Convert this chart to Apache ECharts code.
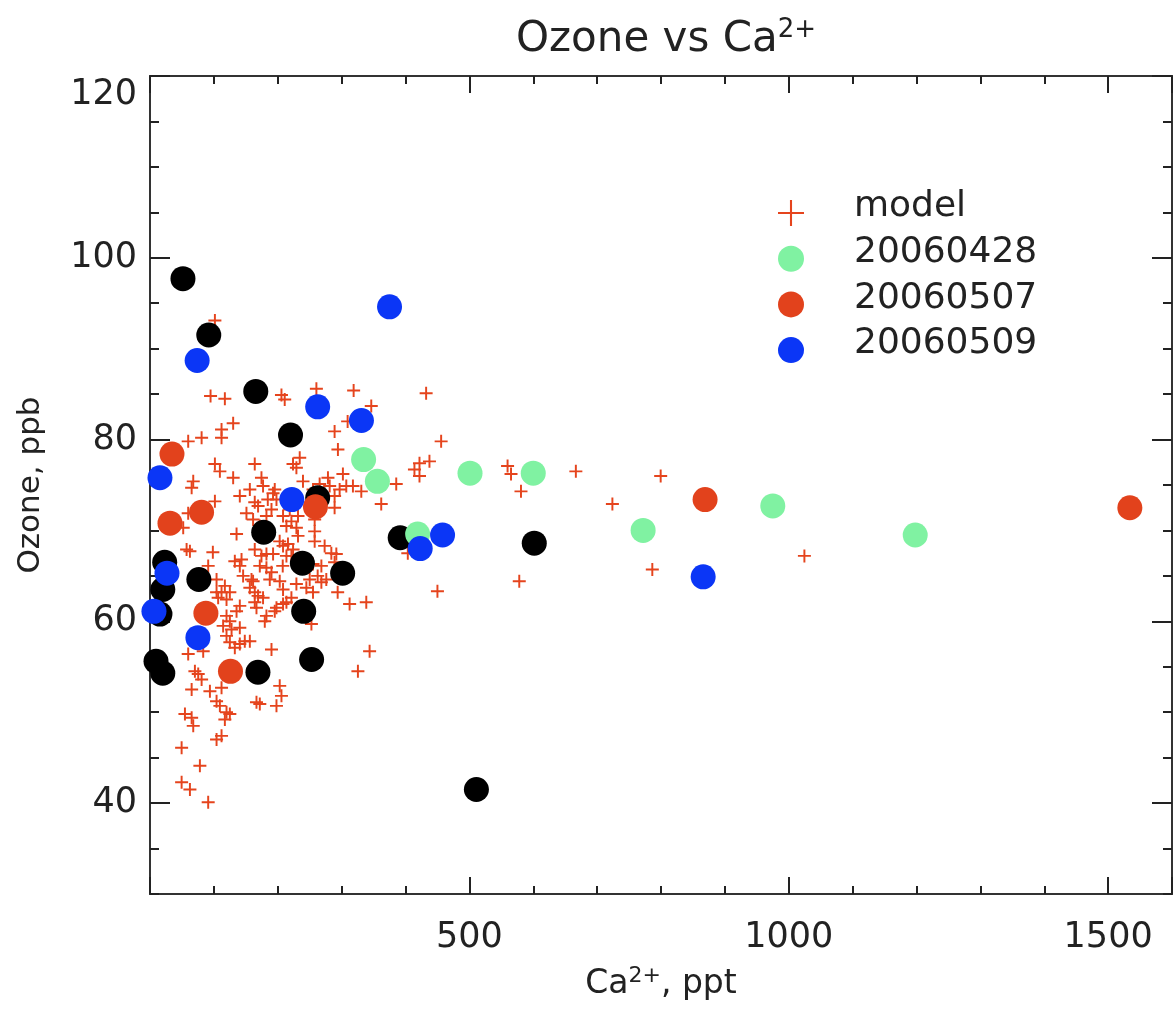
<!DOCTYPE html>
<html>
<head>
<meta charset="utf-8">
<script src="https://cdn.jsdelivr.net/npm/echarts@6/dist/echarts.min.js"></script>
<style>html,body{margin:0;padding:0;background:#fff;overflow:hidden}#chart{width:1175px;height:1009px}</style>
</head>
<body>
<div id="chart"></div>
<script>
// ---- data ----
const xLabelValues = [500, 1000, 1500];
const yLabelValues = [40, 60, 80, 100, 120];
const legendNames = ['model', '20060428', '20060507', '20060509'];

const modelPoints = [
[101.6,93.1],[94.8,84.8],[117.2,84.5],[205.8,84.9],[210.9,84.4],[260.5,85.6],[318.8,85.4],[432.3,85.1],[346.4,83.7],
[130.2,81.8],[112,81.1],[112,80.2],[80.8,80.2],[59.8,79.8],[289,80.9],[294.2,78.9],[455.8,79.8],[234.4,78.0],[223.9,77.3],
[229.2,76.9],[101.6,77.3],[109.4,76.5],[164,77.3],[174.5,75.8],[177,74.9],[130.2,75.8],[302,76.2],[278.6,75.8],[421.9,77.4],
[437.5,77.6],[414,76.7],[421.9,76.0],[385.5,75.1],[362,72.9],[307.3,74.9],[317.7,74.9],[330.8,74.3],[289,73.8],[296.9,74.5],
[239.5,75.4],[195.3,74.5],[156.3,74.5],[140.6,73.8],[101.6,73.2],[164,73.1],[184.4,73.4],[151,71.9],[161.4,71.2],[135.5,69.6],
[213.6,70.5],[221.4,71.0],[231.7,69.4],[257.8,71.2],[257.8,69.9],[257.8,68.8],[289,72.5],[203,68.8],[216,68.5],[224,67.9],
[273.4,68.3],[289,66.5],[98.4,67.6],[132.8,66.6],[143.3,66.8],[164,67.9],[174.5,67.2],[182.3,65.9],[187.5,64.6],[158.9,64.6],
[207.8,66.1],[213.6,67.2],[262.5,65.0],[250,64.6],[268.3,64.3],[117.2,63.9],[125,63.2],[104.2,63.2],[293.8,63.2],[450,63.3],
[67.7,75.4],[65.2,74.7],[255.2,74.5],[265.6,75.1],[59.8,71.9],[52,70.3],[169.2,72.7],[182.3,71.6],[171.9,70.5],[192.6,74.1],
[198,73.4],[190.2,72.3],[218.8,72.3],[208.3,71.6],[231.7,71.6],[229.2,70.3],[57.3,67.9],[62.5,67.7],[91.1,66.1],[140.6,66.1],
[182.3,67.4],[192.7,67.4],[171.9,66.1],[190.2,65.4],[208.3,68.3],[221.4,67.2],[255.2,66.3],[268.3,66.1],[276,64.6],[104.2,64.6],
[145.8,65.0],[161.4,64.4],[156.3,63.7],[203.1,64.4],[208.3,63.5],[229.2,64.1],[244.8,63.7],[255.2,63.2],[112,63.2],[106.7,62.6],
[119.8,62.4],[164,63.2],[169.2,62.8],[177,62.6],[140.6,61.7],[135.5,61.1],[119.8,60.6],[125,60.0],[114.5,59.5],[127.7,59.1],
[140.6,59.3],[166.7,61.5],[164,62.1],[179.7,60.0],[182.3,60.6],[195.3,61.1],[198,61.5],[208.3,61.9],[213.6,62.1],[221.4,62.6],
[252.7,59.7],[119.8,58.4],[125,57.7],[132.8,57.1],[140.6,57.5],[148.4,57.8],[156.3,57.8],[59.8,56.4],[83.3,56.7],[190.2,56.9],
[70.3,54.5],[75.5,54.2],[80.8,53.6],[65.2,52.5],[93.8,52.3],[112,52.7],[104.2,51.2],[109.4,50.7],[119.8,50.0],[125,49.8],
[117.2,49.2],[203.1,52.9],[205.8,51.8],[198,50.7],[166.7,51.1],[171.9,50.9],[54.7,49.8],[65.2,49.4],[67.7,48.5],[112,47.4],
[104.2,47.0],[49.5,46.1],[78.1,44.1],[49.5,42.3],[62.5,41.5],[91.1,40.1],[312.5,61.9],[338.6,62.1],[343.8,56.7],[325.5,54.5],
[309.4,82.0],[559.8,77.1],[565.2,76.2],[666.7,76.5],[580.8,74.3],[723.9,72.9],[281.3,74.9],[283.9,67.5],[291.7,67.4],[403.6,67.5],
[578.1,64.4],[799.5,76.0],[786.4,65.7],[1024.5,67.2]
];

const otherPoints = [
[51.6,97.7],[92,91.5],[165.6,85.3],[220,80.5],[178,69.8],[262.5,73.6],[238.6,66.4],[301.6,65.3],[76.5,64.6],[240.6,61.1],
[253,55.8],[169,54.4],[20,54.3],[9.4,55.6],[23,66.5],[20,63.5],[15.6,60.8],[391.7,69.2],[601.6,68.6],[511,41.5]
];

const points20060428 = [
[334.4,77.8],[356,75.4],[501,76.3],[600,76.3],[419,69.6],[772,70.0],[975,72.7],[1198,69.5]
];

const points20060507 = [
[34.4,78.4],[31.3,70.8],[80.7,72.0],[87.5,60.9],[126,54.5],[259,72.6],[869,73.4],[1534,72.5]
];

const points20060509 = [
[73.8,88.7],[262.5,83.6],[331,82.1],[375,94.6],[15.6,75.8],[222,73.4],[26.6,65.3],[6.2,61.1],[75,58.2],[458,69.5],[423,68.0],[866,64.9]
];

// ---- styling ----
const FONT = 'DejaVu Sans';
const TXT = '#222';
const plusData = 'path://M42.5,0H57.5V42.5H100V57.5H57.5V100H42.5V57.5H0V42.5H42.5Z';
const plusLegend = 'path://M46,0H54V46H100V54H54V100H46V54H0V46H46Z';
const cModel = '#e5441d', cGreen = '#80f2a2', cRed = '#e2421c', cBlue = '#0b36f6', cBlack = '#000000';

const chart = echarts.init(document.getElementById('chart'), null, {renderer: 'canvas', width: 1175, height: 1009});

function xAx(pos, interval, len, labels) {
  return {
    type: 'value', gridIndex: 0, position: pos, min: 0, max: 1600, interval: interval,
    axisLine: {show: true, onZero: false, lineStyle: {color: '#333', width: 2}},
    axisTick: {show: true, inside: true, length: len, lineStyle: {color: '#222', width: 2}},
    axisLabel: labels ? {
      show: true, margin: 26, fontFamily: FONT, fontSize: 35, color: TXT,
      formatter: v => xLabelValues.indexOf(v) >= 0 ? String(v) : ''
    } : {show: false},
    splitLine: {show: false}
  };
}
function yAx(pos, tickCfg, labels) {
  return Object.assign({
    type: 'value', gridIndex: 0, position: pos, min: 30, max: 120,
    axisLine: {show: true, onZero: false, lineStyle: {color: '#333', width: 2}},
    axisLabel: labels ? {
      show: true, margin: 13, fontFamily: FONT, fontSize: 35, color: TXT,
      formatter: v => yLabelValues.indexOf(v) >= 0 ? (v === 120 ? '{t|120}' : String(v)) : '',
      rich: {t: {fontFamily: FONT, fontSize: 35, color: TXT, padding: [38, 0, 0, 0]}}
    } : {show: false},
    splitLine: {show: false}
  }, tickCfg);
}

const yAxisMain = yAx('left', {interval: 5, axisTick: {show: true, inside: true, length: 9, lineStyle: {color: '#222', width: 2}}}, true);
yAxisMain.name = 'Ozone, ppb';
yAxisMain.nameLocation = 'middle';
yAxisMain.nameGap = 104;
yAxisMain.nameTextStyle = {fontFamily: FONT, fontSize: 31, color: TXT};

const majorY = {interval: 5, axisTick: {show: true, inside: true, length: 20, customValues: yLabelValues, lineStyle: {color: '#222', width: 2}}};

const option = {
  backgroundColor: '#ffffff',
  animation: false,
  title: {
    text: 'Ozone vs Ca{sup|2+}',
    left: 661, textAlign: 'center', top: 12,
    textStyle: {fontFamily: FONT, fontSize: 42, fontWeight: 'normal', color: TXT,
      rich: {sup: {fontFamily: FONT, fontSize: 26, color: TXT, padding: [0, 0, 20, 0]}}}
  },
  graphic: [{
    type: 'text', x: 661, y: 1003, z: 10,
    style: {
      text: 'Ca{sup|2+}, ppt', fill: TXT, fontFamily: FONT, fontSize: 33,
      align: 'center', verticalAlign: 'bottom',
      rich: {sup: {fontFamily: FONT, fontSize: 22, fill: TXT, padding: [0, 0, 16, 0]}}
    }
  }],
  grid: {left: 150, right: 2, top: 76, bottom: 115, containLabel: false},
  legend: {
    orient: 'vertical', left: 773, top: 184,
    itemWidth: 26, itemHeight: 26, itemGap: 8.7,
    symbolKeepAspect: true,
    formatter: name => '{a|' + name + '}',
    textStyle: {fontFamily: FONT, fontSize: 36, color: TXT,
      rich: {a: {fontFamily: FONT, fontSize: 36, color: TXT, padding: [0, 0, 12, 45]}}},
    data: [
      {name: 'model', icon: plusLegend},
      {name: '20060428', icon: 'circle'},
      {name: '20060507', icon: 'circle'},
      {name: '20060509', icon: 'circle'}
    ]
  },
  xAxis: [
    xAx('bottom', 100, 8, true),
    xAx('bottom', 500, 17, false),
    xAx('top', 100, 8, false),
    xAx('top', 500, 17, false)
  ],
  yAxis: [
    yAxisMain,
    yAx('left', majorY, false),
    yAx('right', {interval: 5, axisTick: {show: true, inside: true, length: 9, lineStyle: {color: '#222', width: 2}}}, false),
    yAx('right', majorY, false)
  ],
  series: [
    {name: legendNames[0], type: 'scatter', xAxisIndex: 0, yAxisIndex: 0, data: modelPoints,
     symbol: plusData, symbolSize: 13, itemStyle: {color: cModel, opacity: 1}, z: 2},
    {name: 'other', type: 'scatter', xAxisIndex: 0, yAxisIndex: 0, data: otherPoints,
     symbol: 'circle', symbolSize: 25, itemStyle: {color: cBlack, opacity: 1}, z: 3},
    {name: legendNames[1], type: 'scatter', xAxisIndex: 0, yAxisIndex: 0, data: points20060428,
     symbol: 'circle', symbolSize: 25, itemStyle: {color: cGreen, opacity: 1}, z: 4},
    {name: legendNames[2], type: 'scatter', xAxisIndex: 0, yAxisIndex: 0, data: points20060507,
     symbol: 'circle', symbolSize: 25, itemStyle: {color: cRed, opacity: 1}, z: 5},
    {name: legendNames[3], type: 'scatter', xAxisIndex: 0, yAxisIndex: 0, data: points20060509,
     symbol: 'circle', symbolSize: 25, itemStyle: {color: cBlue, opacity: 1}, z: 6}
  ]
};
chart.setOption(option);
</script>
</body>
</html>
